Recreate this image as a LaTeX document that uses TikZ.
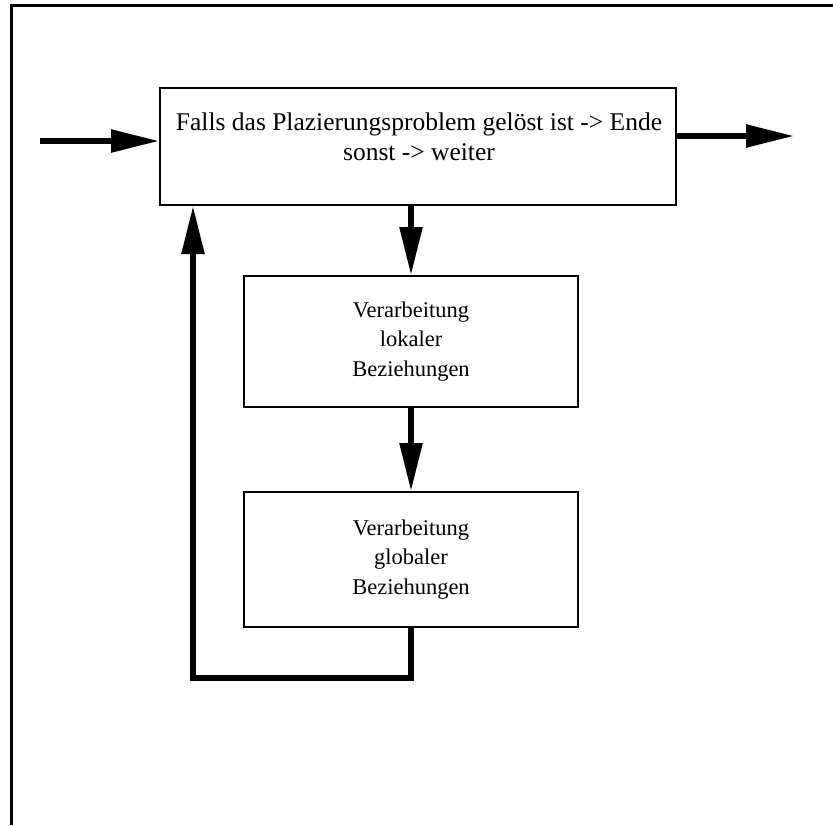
\documentclass[tikz,border=0pt]{standalone}
\usepackage{fontspec}
\setmainfont{Liberation Serif}
\usetikzlibrary{arrows.meta}
\begin{document}
\begin{tikzpicture}[x=1pt,y=-1pt,
  box/.style={draw, line width=2pt, minimum width=334pt, inner sep=0pt},
  txt/.style={align=center, font=\fontsize{22.5}{29.5}\selectfont, inner sep=0pt},
  toptext/.style={align=center, font=\fontsize{25.5}{29.5}\selectfont, inner sep=0pt},
  arr/.style={line width=5.5pt, line join=miter, -{Triangle[length=48pt,width=22pt]}}]
\useasboundingbox (0,0) rectangle (833,825);
\draw[line width=3pt] (833,5) -- (11,5) -- (11,825);
\node[box, minimum width=516pt, minimum height=117pt] (top) at (418,146.5) {};
\node[toptext] (toptxt) at (419,137) {Falls das Plazierungsproblem gelöst ist -> Ende\\sonst -> weiter};
\node[box, minimum height=131pt] (b2) at (411,341.5) {};
\node[txt] (b2txt) at (b2) {Verarbeitung\\lokaler\\Beziehungen};
\node[box, minimum height=135pt] (b3) at (411,559.5) {};
\node[txt] (b3txt) at (b3) {Verarbeitung\\globaler\\Beziehungen};
\coordinate (in) at (40,141);
\coordinate (out) at (794,136);
\coordinate (fb) at (193,678);
\draw[arr] (in) -- (in -| top.west);
\draw[arr] (out -| top.east) -- (out);
\draw[arr] (top.south -| b2.north) -- (b2.north);
\draw[arr] (b2.south) -- (b3.north);
\draw[arr] (b3.south) |- (fb) -- (fb |- top.south);
\end{tikzpicture}
\end{document}
